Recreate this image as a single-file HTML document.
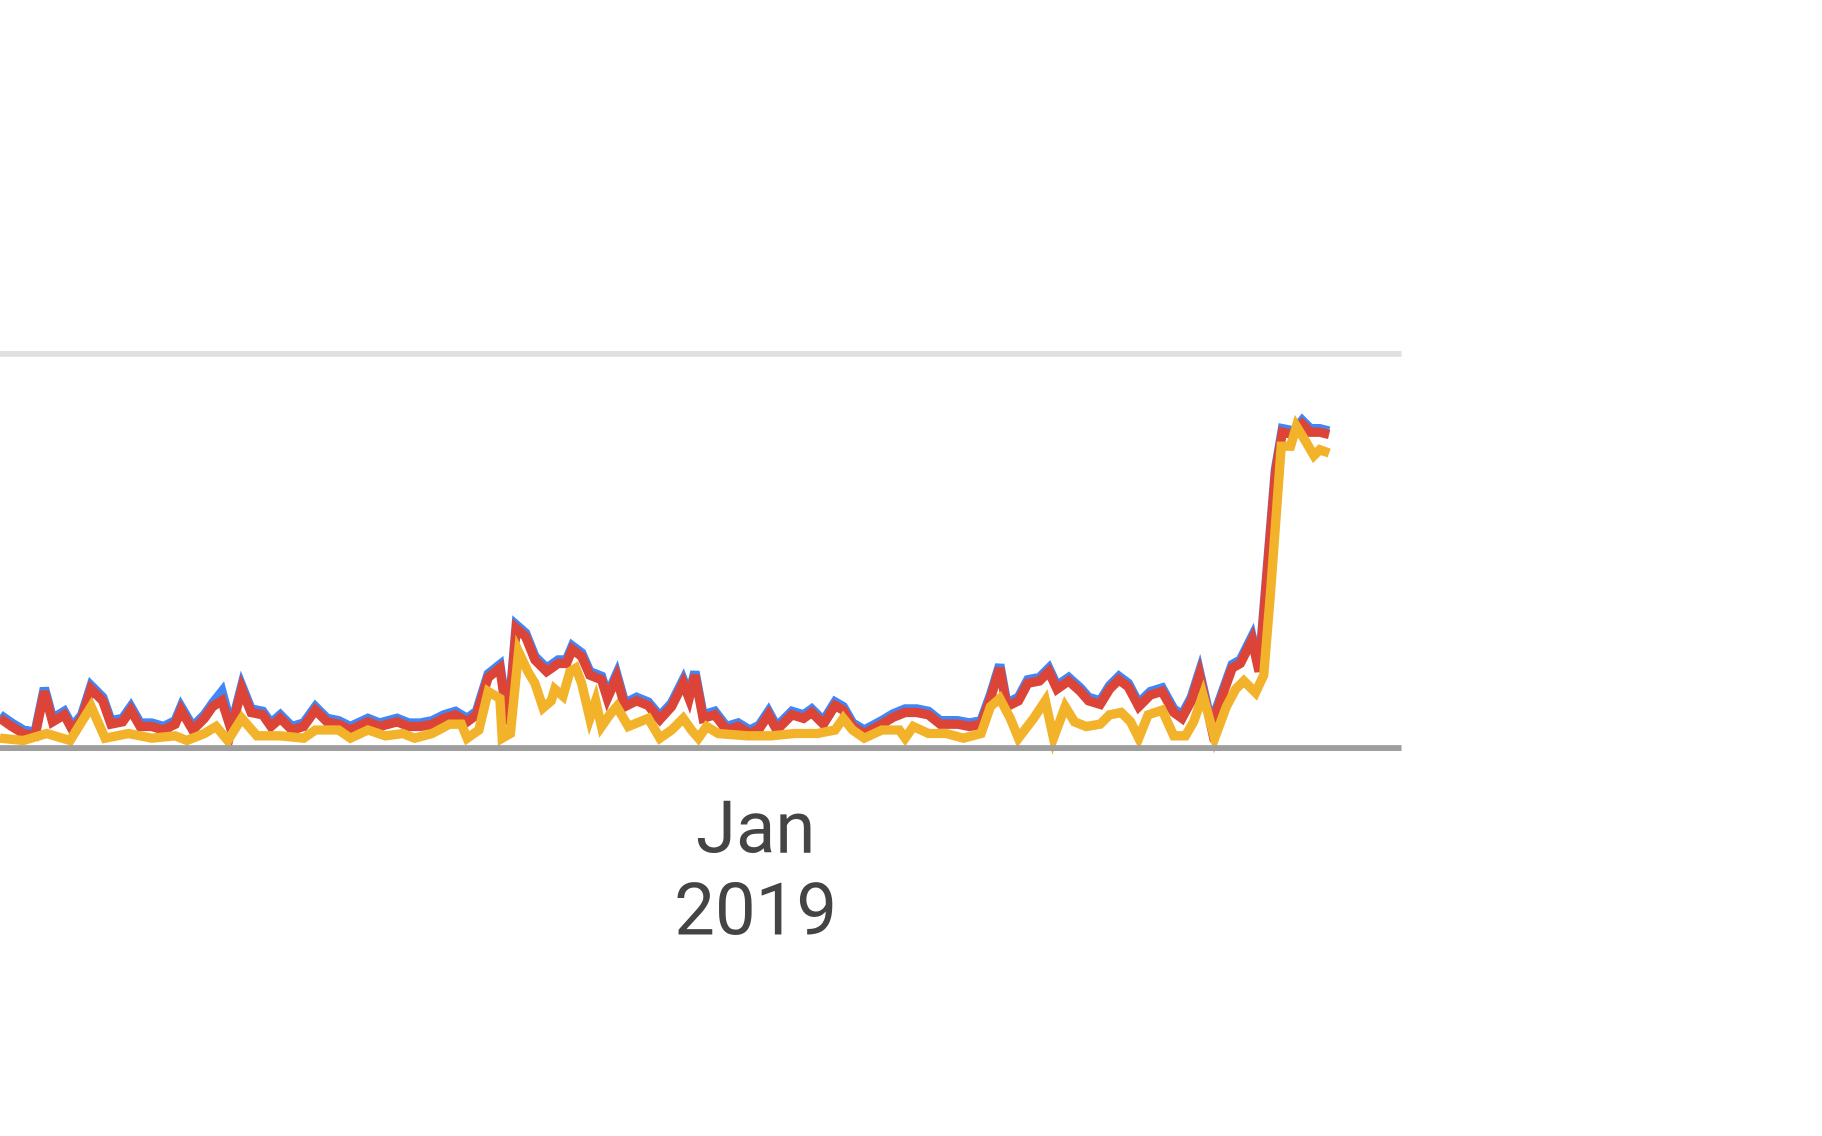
<!DOCTYPE html>
<html><head><style>html,body{margin:0;padding:0;background:#fff;}svg{display:block}</style></head>
<body>
<svg width="1822" height="1136" viewBox="0 0 1560 972.6" preserveAspectRatio="none" xmlns="http://www.w3.org/2000/svg">
<line x1="0" y1="303" x2="1200" y2="303" stroke="#e0e0e0" stroke-width="5"/>
<g fill="none" stroke-width="8" stroke-linejoin="miter" stroke-linecap="butt">
<polyline id="r" stroke="#4285f4" transform="translate(0,-3)" points="0,615 10,622 20,628 30,630 38,592 45,618 55,612 62,625 70,615 78,590 88,600 95,620 105,618 112,608 120,622 130,622 140,625 150,620 155,608 165,625 175,615 182,605 190,595 198,625 207,590 215,610 225,612 232,622 240,615 250,625 260,622 270,608 280,618 290,620 300,625 315,618 325,622 340,618 350,622 360,622 370,620 380,615 390,612 400,618 408,612 418,580 428,572 435,620 442,538 450,545 458,565 468,575 478,568 485,568 490,556 498,562 505,578 515,582 520,598 528,580 535,605 545,600 555,604 565,616 575,605 585,585 590,598 595,578 602,615 612,612 622,625 632,622 642,628 650,624 658,612 665,625 678,612 688,615 695,610 705,620 715,604 722,608 730,622 740,628 755,620 765,614 775,610 785,610 795,612 805,620 820,620 830,622 840,620 848,598 856,572 862,605 872,600 880,585 890,583 898,575 905,590 915,583 925,592 932,600 942,603 950,590 958,582 966,588 975,605 985,595 995,592 1005,610 1012,615 1020,600 1027,578 1037,622 1045,600 1055,572 1062,568 1072,548 1078,575 1085,490 1092,405 1098,370 1108,372 1115,363 1122,370 1130,370 1138,372"/>
<polyline stroke="#db4437" points="0,615 10,622 20,628 30,630 38,592 45,618 55,612 62,625 70,615 78,590 88,600 95,620 105,618 112,608 120,622 130,622 140,625 150,620 155,608 165,625 175,615 182,605 190,600 198,625 207,590 215,610 225,612 232,622 240,615 250,625 260,622 270,608 280,618 290,620 300,625 315,618 325,622 340,618 350,622 360,622 370,620 380,615 390,612 400,618 408,612 418,580 428,572 435,620 442,538 450,545 458,565 468,575 478,568 485,568 490,556 498,562 505,578 515,582 520,598 528,580 535,605 545,600 555,604 565,616 575,605 585,585 590,598 595,578 602,615 612,612 622,625 632,622 642,628 650,624 658,612 665,625 678,612 688,615 695,610 705,620 715,604 722,608 730,622 740,628 755,620 765,614 775,610 785,610 795,612 805,620 820,620 830,622 840,620 848,598 856,572 862,605 872,600 880,585 890,583 898,575 905,590 915,583 925,592 932,600 942,603 950,590 958,582 966,588 975,605 985,595 995,592 1005,610 1012,615 1020,600 1027,578 1037,622 1045,600 1055,572 1062,568 1072,548 1078,575 1085,490 1092,405 1098,370 1108,372 1115,363 1122,370 1130,370 1138,372"/>
<polyline stroke="#f2b22a" points="0,632 20,634 40,628 60,634 78,605 90,632 110,628 130,632 150,630 160,634 175,628 185,622 195,634 207,615 220,630 240,630 260,632 270,625 290,625 300,632 315,625 330,630 345,628 355,632 370,628 385,620 395,620 400,632 410,625 418,592 428,598 430,632 437,628 444,558 452,575 458,585 465,606 472,600 475,590 482,596 488,575 493,572 498,585 505,615 510,600 515,622 522,612 528,605 538,622 555,615 565,632 575,625 585,615 592,625 598,632 605,622 615,628 640,630 660,630 680,628 700,628 715,625 722,615 730,625 740,632 755,625 770,625 775,632 782,622 795,628 810,628 825,632 840,628 848,605 856,598 865,615 872,632 885,615 895,600 902,632 912,605 920,618 930,622 942,620 950,612 960,610 968,618 975,632 983,612 995,608 1005,630 1015,630 1022,618 1030,595 1040,632 1050,605 1058,590 1065,583 1075,593 1082,578 1088,505 1097,382 1105,382 1110,365 1118,378 1125,390 1130,385 1138,388"/>
</g>
<line x1="0" y1="640.5" x2="1200" y2="640.5" stroke="#9e9e9e" stroke-width="5"/>
<g font-family="Roboto, 'Liberation Sans', sans-serif" font-size="62" fill="#444" text-anchor="middle">
<text x="647" y="730">Jan</text>
<text x="647" y="800">2019</text>
</g>
</svg>
</body></html>
